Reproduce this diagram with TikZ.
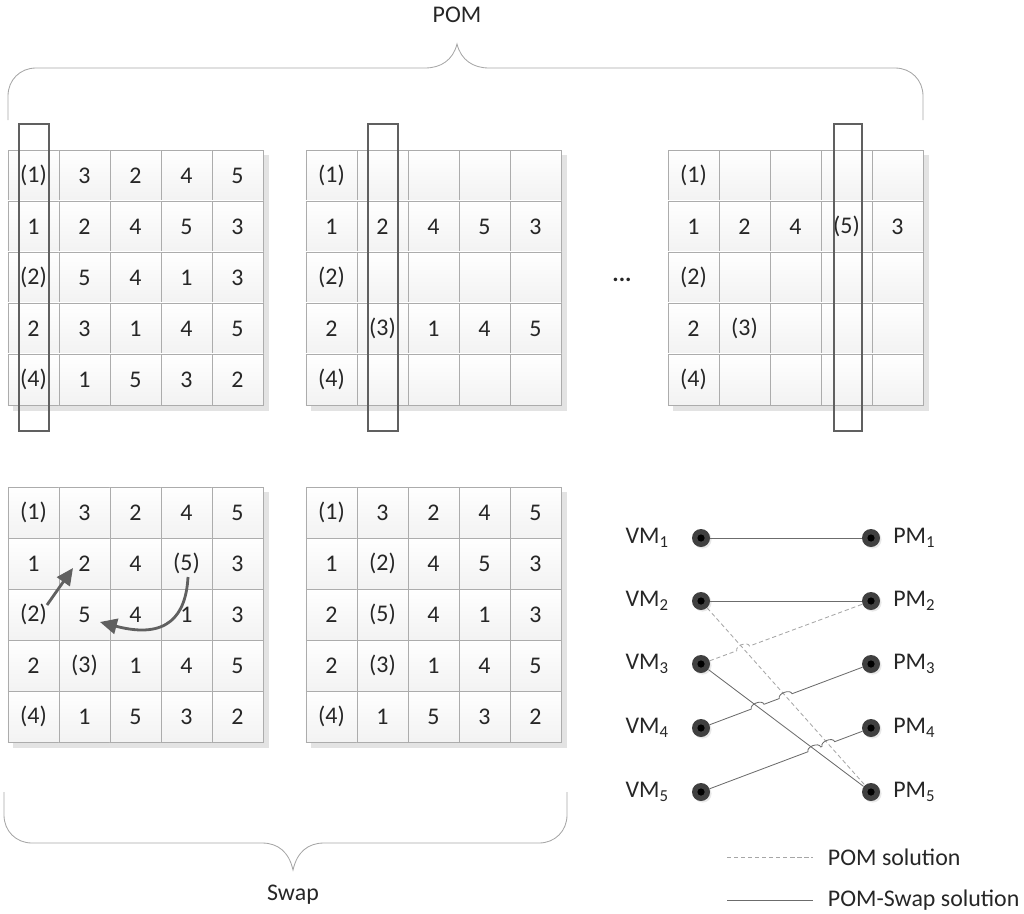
\documentclass[tikz,border=0pt]{standalone}
\usepackage{fontspec}
\setmainfont{Carlito}
\usetikzlibrary{positioning,arrows.meta,calc,intersections,shadows}

\tikzset{
	cell/.style={draw=gray!65, line width=0.5pt, minimum size=1.275cm, inner sep=0pt, top color=white, bottom color=gray!10, text=black!85},
	colbox/.style={draw=gray!75!black, line width=1.8pt},
	brace/.style={draw=gray!70, line width=0.6pt},
	hostdot/.style={circle, minimum size=0.45cm, inner sep=0pt, fill=gray!50!black, drop shadow={shadow xshift=0.04cm, shadow yshift=-0.04cm, fill=gray!35}, path picture={\fill[black] (path picture bounding box.center) circle (0.09cm);}},
	solline/.style={draw=gray!85!black, line width=0.6pt},
	pomline/.style={draw=gray!70, line width=0.6pt, dash pattern=on 3pt off 2pt},
	swaparrow/.style={draw=gray!75!black, line width=2pt, -{Triangle[length=12pt,width=11pt]}}
}

% one 5x5 table: name, left, top, rows
\newcommand{\pomgrid}[4]{%
	\fill[gray!22] (#2+5,#3+5) rectangle (#2+261,#3+261);
	\foreach \rowlist [count=\i from 0] in {#4} {
		\foreach \t [count=\j from 0] in \rowlist {
			\node[cell] (#1-\i-\j) at (#2+25.5+51*\j,#3+25.5+51*\i) {\t};
		}
	}
}

\begin{document}
\begin{tikzpicture}[x=0.025cm, y=-0.025cm, font=\fontsize{17}{20}\selectfont, text=black!85]
	\useasboundingbox (0,0) rectangle (1024,913);

	% POM tables
	\pomgrid{A}{8}{150}{{(1),3,2,4,5},{1,2,4,5,3},{(2),5,4,1,3},{2,3,1,4,5},{(4),1,5,3,2}}
	\pomgrid{B}{306}{150}{{(1),{},{},{},{}},{1,2,4,5,3},{(2),{},{},{},{}},{2,(3),1,4,5},{(4),{},{},{},{}}}
	\pomgrid{C}{668}{150}{{(1),{},{},{},{}},{1,2,4,(5),3},{(2),{},{},{},{}},{2,(3),{},{},{}},{(4),{},{},{},{}}}
	\draw[colbox] (19,124) rectangle (49,431);
	\draw[colbox] (368,124) rectangle (398,431);
	\draw[colbox] (834,124) rectangle (862,431);
	\node (more) at (622,280) {\textbf{...}};

	\draw[brace] (8,120) -- (8,96) .. controls (8,80) and (20,68) .. (36,68) -- (425,68) .. controls (441,68) and (453,60) .. (457,44) .. controls (461,60) and (473,68) .. (489,68) -- (895,68) .. controls (911,68) and (923,80) .. (923,96) -- (923,120);
	\node (pom) at (457,15) {POM};

	% swap tables
	\pomgrid{D}{8}{487}{{(1),3,2,4,5},{1,2,4,(5),3},{(2),5,4,1,3},{2,(3),1,4,5},{(4),1,5,3,2}}
	\pomgrid{E}{306}{487}{{(1),3,2,4,5},{1,(2),4,5,3},{2,(5),4,1,3},{2,(3),1,4,5},{(4),1,5,3,2}}
	\draw[swaparrow] ([shift={(13.5,-9.5)}]D-2-0.center) -- ([shift={(-11.5,4.5)}]D-1-1.center);
	\draw[swaparrow] ([shift={(1.5,13.5)}]D-1-3.center) .. controls (186,615) and (168,640) .. ([shift={(15.5,7.5)}]D-2-1.center);

	\draw[brace] (4,792) -- (4,815) .. controls (4,831) and (16,843) .. (32,843) -- (262,843) .. controls (278,843) and (289,852) .. (293,870) .. controls (297,852) and (308,843) .. (324,843) -- (539,843) .. controls (555,843) and (567,831) .. (567,815) -- (567,792);
	\node (swap) at (293,895) {Swap};

	% VM to PM
	\foreach \k/\y in {1/538,2/601,3/664,4/728,5/792} {
		\node[hostdot] (v\k) at (701,\y) {};
		\node[hostdot] (p\k) at (871,\y) {};
		\node[left=0.45cm of v\k] (vl\k) {VM\textsubscript{\k}};
		\node[right=0.2cm of p\k] (pl\k) {PM\textsubscript{\k}};
	}
	\path[name path=a35] (v3) -- (p5);
	\path[name path=a25] (v2) -- (p5);
	\path[name path=a43] (v4) -- (p3);
	\path[name path=a54] (v5) -- (p4);
	\path[name path=a32] (v3) -- (p2);
	\path[name intersections={of=a43 and a35,by=h1}];
	\path[name intersections={of=a43 and a25,by=h2}];
	\path[name intersections={of=a54 and a35,by=h3}];
	\path[name intersections={of=a54 and a25,by=h4}];
	\path[name intersections={of=a32 and a25,by=h5}];

	\draw[solline] (v1) -- (p1);
	\draw[solline] (v2) -- (p2);
	\draw[solline] (v3) -- (p5);
	\draw[pomline] (v2) -- (p5);
	\draw[pomline] (v3) -- ($(h5)!0.17cm!(v3)$) to[bend left=90] ($(h5)!0.17cm!(p2)$) -- (p2);
	\draw[solline] (v4) -- ($(h1)!0.17cm!(v4)$) to[bend left=90] ($(h1)!0.17cm!(p3)$) -- ($(h2)!0.17cm!(v4)$) to[bend left=90] ($(h2)!0.17cm!(p3)$) -- (p3);
	\draw[solline] (v5) -- ($(h3)!0.17cm!(v5)$) to[bend left=90] ($(h3)!0.17cm!(p4)$) -- ($(h4)!0.17cm!(v5)$) to[bend left=90] ($(h4)!0.17cm!(p4)$) -- (p4);

	% legend
	\coordinate (lg1a) at (727,857);
	\coordinate (lg1b) at (813,857);
	\coordinate (lg2a) at (727,900);
	\coordinate (lg2b) at (813,900);
	\draw[pomline] (lg1a) -- (lg1b);
	\draw[solline] (lg2a) -- (lg2b);
	\node[right=0.25cm of lg1b] (lg1) {POM solution};
	\node[right=0.25cm of lg2b] (lg2) {POM-Swap solution};
\end{tikzpicture}
\end{document}
